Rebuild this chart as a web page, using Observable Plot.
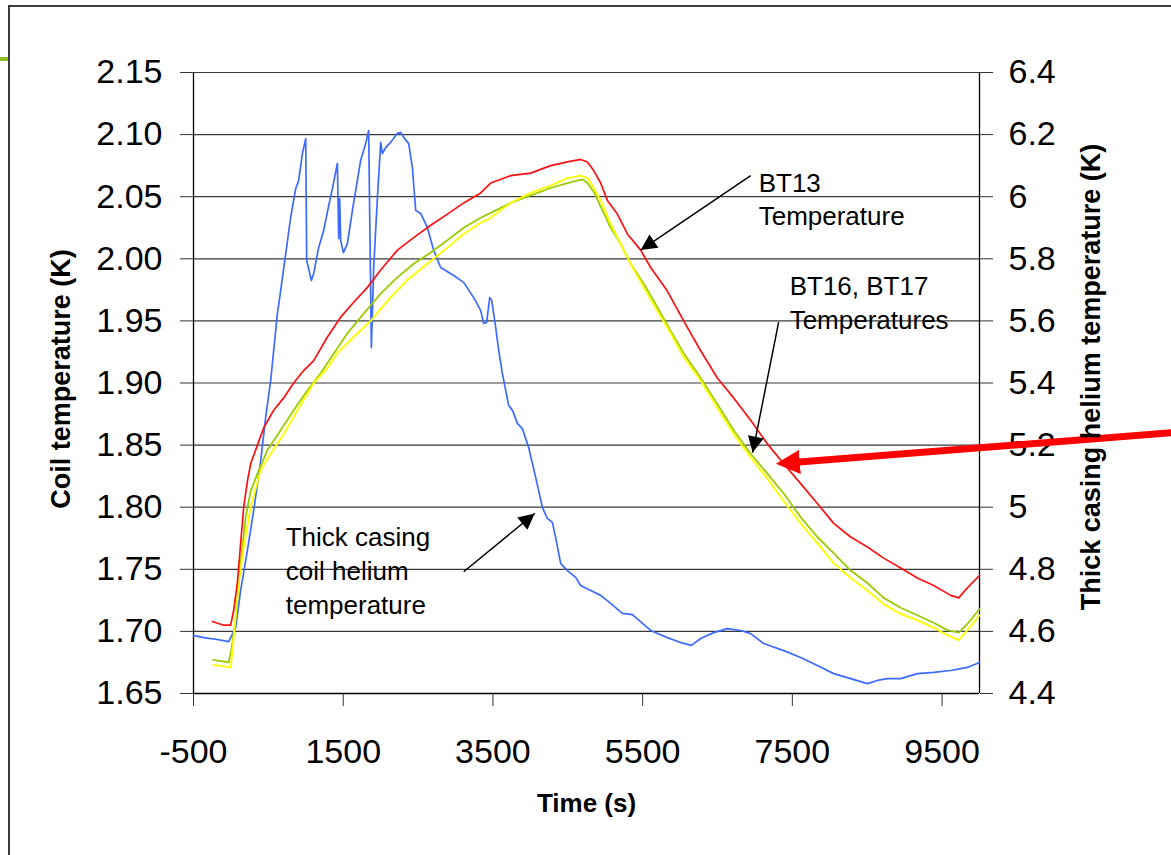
<!DOCTYPE html>
<html>
<head>
<meta charset="utf-8">
<script src="https://cdn.jsdelivr.net/npm/d3@7"></script>
<script src="https://cdn.jsdelivr.net/npm/@observablehq/plot@0.6"></script>
<style>
  html, body { margin: 0; padding: 0; background: #fff; }
  #wrap { position: relative; width: 1171px; height: 855px; overflow: hidden; background: #fff; }
  #frame { position: absolute; left: 8px; top: 5px; right: -4px; bottom: -4px;
           border-top: 2px solid #3c3c3c; border-left: 2px solid #3c3c3c; pointer-events: none; }
  #greenmark { position: absolute; left: 0; top: 57px; width: 8px; height: 4px; background: #8cbf26; }
  #chart svg { display: block; }
</style>
</head>
<body>
<div id="wrap">
  <div id="chart"></div>
  <div id="frame"></div>
  <div id="greenmark"></div>
</div>
<script>
// ---- axis ticks ----
const xTicks = [-500, 1500, 3500, 5500, 7500, 9500];
const leftTicks = [1.65, 1.70, 1.75, 1.80, 1.85, 1.90, 1.95, 2.00, 2.05, 2.10, 2.15];
const rightTicks = [4.4, 4.6, 4.8, 5.0, 5.2, 5.4, 5.6, 5.8, 6.0, 6.2, 6.4];
const rightTickLabels = ["4.4", "4.6", "4.8", "5", "5.2", "5.4", "5.6", "5.8", "6", "6.2", "6.4"];

// ---- BT13 (red, left axis) ----
const bt13Time = [-248,-97,-3,37,86,130,171,220,264,354,438,571,705,838,972,1106,1289,1466,1640,1823,2001,2224,2441,2669,2892,3109,3336,3470,3737,4004,4271,4495,4672,4762,4846,4939,5029,5163,5296,5474,5607,5830,6048,6275,6498,6716,6943,7166,7384,7611,7834,8052,8279,8502,8720,8947,9170,9388,9615,9722,9838,10000];
const bt13Temp = [1.708,1.705,1.705,1.717,1.739,1.771,1.800,1.821,1.835,1.850,1.864,1.878,1.888,1.900,1.910,1.918,1.937,1.953,1.965,1.977,1.991,2.007,2.017,2.027,2.036,2.045,2.053,2.061,2.067,2.069,2.075,2.078,2.080,2.078,2.071,2.061,2.047,2.036,2.020,2.007,1.993,1.974,1.950,1.926,1.904,1.888,1.870,1.851,1.835,1.819,1.803,1.787,1.776,1.768,1.759,1.751,1.743,1.737,1.729,1.727,1.735,1.745];

// ---- BT16 (green, left axis) ----
const bt16Time = [-234,-30,6,64,130,197,264,354,487,665,838,1021,1199,1400,1556,1774,2001,2224,2441,2669,2892,3109,3336,3470,3737,4004,4271,4495,4695,4762,4846,4939,5073,5206,5340,5514,5697,5874,6048,6275,6498,6716,6943,7166,7384,7611,7834,8052,8279,8502,8720,8947,9170,9388,9571,9722,9838,10000];
const bt16Temp = [1.677,1.675,1.685,1.711,1.755,1.792,1.813,1.827,1.846,1.862,1.878,1.894,1.908,1.926,1.940,1.956,1.972,1.985,1.996,2.005,2.015,2.025,2.033,2.037,2.045,2.051,2.057,2.061,2.064,2.061,2.054,2.042,2.025,2.012,1.996,1.980,1.961,1.942,1.924,1.904,1.883,1.862,1.843,1.827,1.811,1.792,1.776,1.763,1.749,1.739,1.727,1.719,1.713,1.707,1.701,1.699,1.706,1.718];

// ---- BT17 (yellow, left axis) ----
const bt17Time = [-234,-3,37,104,171,264,398,531,705,888,1106,1289,1422,1640,1867,2090,2357,2624,2892,3109,3336,3470,3737,4004,4271,4495,4672,4762,4846,4939,5073,5206,5340,5514,5697,5874,6048,6275,6498,6716,6943,7166,7384,7611,7834,8052,8279,8502,8720,8947,9170,9388,9571,9722,9838,10000];
const bt17Temp = [1.673,1.671,1.695,1.739,1.768,1.800,1.830,1.843,1.859,1.878,1.900,1.912,1.924,1.937,1.950,1.966,1.983,1.996,2.009,2.020,2.029,2.033,2.045,2.053,2.059,2.065,2.067,2.065,2.057,2.047,2.028,2.012,1.996,1.977,1.958,1.940,1.921,1.902,1.880,1.859,1.840,1.823,1.805,1.787,1.771,1.755,1.743,1.733,1.722,1.714,1.709,1.703,1.697,1.693,1.701,1.713];

// ---- Thick casing coil helium temperature (blue, right axis) ----
const heliumTime = [-500,-364,-181,-30,-3,64,130,220,304,398,464,531,621,665,732,798,865,905,955,999,1012,1075,1106,1172,1239,1293,1359,1422,1440,1453,1466,1502,1556,1623,1667,1733,1800,1840,1876,1907,1957,2001,2023,2067,2134,2224,2268,2308,2375,2424,2468,2535,2624,2709,2802,2976,3109,3243,3336,3376,3416,3457,3484,3537,3577,3626,3710,3763,3827,3893,3978,4071,4161,4227,4294,4338,4405,4495,4605,4672,4806,4939,5073,5229,5363,5607,5830,6008,6151,6275,6449,6632,6810,6943,7117,7384,7611,7834,8052,8279,8502,8636,8769,8947,9170,9388,9615,9838,10000];
const heliumTemp = [4.587,4.580,4.574,4.567,4.580,4.613,4.732,4.861,4.989,5.150,5.289,5.408,5.624,5.698,5.817,5.933,6.026,6.052,6.139,6.187,5.795,5.730,5.753,5.836,5.891,5.956,6.030,6.107,5.865,5.994,5.859,5.820,5.849,5.956,6.020,6.117,6.171,6.213,5.514,5.772,5.997,6.175,6.139,6.158,6.175,6.204,6.207,6.191,6.171,6.094,5.956,5.946,5.901,5.827,5.772,5.746,5.724,5.675,5.634,5.592,5.595,5.675,5.666,5.579,5.505,5.431,5.328,5.311,5.270,5.253,5.192,5.096,4.999,4.964,4.951,4.902,4.819,4.796,4.774,4.748,4.732,4.716,4.690,4.658,4.654,4.603,4.580,4.564,4.555,4.577,4.596,4.609,4.603,4.593,4.561,4.538,4.516,4.490,4.464,4.448,4.432,4.442,4.448,4.448,4.464,4.468,4.474,4.484,4.500];

// ---- annotations (data units: time s, coil temperature K) ----
const noteTexts = ["BT13\nTemperature", "BT16, BT17\nTemperatures", "Thick casing\ncoil helium\ntemperature"];
const noteTime = [7050, 7464, 732];
const noteTemp = [2.0735, 1.990, 1.788];
const arrowFromTime = [6943, 7317, 3109];
const arrowFromTemp = [2.067, 1.949, 1.748];
const arrowToTime = [5474, 6970, 4058];
const arrowToTemp = [2.007, 1.844, 1.795];
const redArrowFromTime = [12567];
const redArrowFromTemp = [1.860];
const redArrowToTime = [7504];
const redArrowToTemp = [1.836];

// right axis (4.4–6.4 K) shares the frame with left axis (1.65–2.15 K)
const L0 = 1.65, L1 = 2.15, R0 = 4.4, R1 = 6.4;
const rightToLeft = v => L0 + (v - R0) * (L1 - L0) / (R1 - R0);

const series = (t, v, f = d => d) => t.map((x, i) => ({time: x, temp: f(v[i])}));
const bt13 = series(bt13Time, bt13Temp);
const bt16 = series(bt16Time, bt16Temp);
const bt17 = series(bt17Time, bt17Temp);
const helium = series(heliumTime, heliumTemp, rightToLeft);
const notes = noteTexts.map((s, i) => ({text: s, time: noteTime[i], temp: noteTemp[i]}));
const arrows = arrowFromTime.map((t, i) => ({x1: t, y1: arrowFromTemp[i], x2: arrowToTime[i], y2: arrowToTemp[i]}));
const redArrows = redArrowFromTime.map((t, i) => ({x1: t, y1: redArrowFromTemp[i], x2: redArrowToTime[i], y2: redArrowToTemp[i]}));

const FONT = "'Liberation Sans', Arial, Helvetica, sans-serif";

const chart = Plot.plot({
  width: 1171,
  height: 855,
  marginLeft: 193,
  marginRight: 192,
  marginTop: 72,
  marginBottom: 162,
  x: {domain: [-500, 10000]},
  y: {domain: [L0, L1]},
  style: {fontFamily: FONT, fontSize: "34px", color: "#000", background: "transparent", overflow: "visible"},
  marks: [
    Plot.gridY(leftTicks, {stroke: "#3a3a3a", strokeOpacity: 1, strokeWidth: 1.2}),
    Plot.ruleX([-500], {stroke: "#000", strokeWidth: 1.3}),
    Plot.ruleX([10000], {stroke: "#000", strokeWidth: 1.3}),
    Plot.axisY(leftTicks, {anchor: "left", tickSize: 13, tickPadding: 18, tickFormat: d => d.toFixed(2), label: null, stroke: "#333", fontSize: 34}),
    Plot.axisY(rightTicks.map(rightToLeft), {anchor: "right", tickSize: 13, tickPadding: 16, tickFormat: (d, i) => rightTickLabels[i], label: null, stroke: "#333", fontSize: 34}),
    Plot.axisX(xTicks, {anchor: "bottom", tickSize: 13, tickPadding: 32, tickFormat: d => String(d), label: null, stroke: "#333", fontSize: 34}),
    Plot.ruleY([L0], {stroke: "#000", strokeWidth: 1.3}),
    Plot.line(helium, {x: "time", y: "temp", stroke: "#3d6bff", strokeWidth: 1.7}),
    Plot.line(bt16, {x: "time", y: "temp", stroke: "#99cc00", strokeWidth: 1.8}),
    Plot.line(bt17, {x: "time", y: "temp", stroke: "#ffff00", strokeWidth: 1.9}),
    Plot.line(bt13, {x: "time", y: "temp", stroke: "#ff1010", strokeWidth: 1.7}),
    Plot.text(notes, {x: "time", y: "temp", text: "text", textAnchor: "start", lineAnchor: "top", lineHeight: 1.3, fontSize: 26, fill: "#000"}),
    Plot.link(arrows, {x1: "x1", y1: "y1", x2: "x2", y2: "y2", stroke: "#000", strokeWidth: 1.5, className: "ann-arrow"}),
    Plot.link(redArrows, {x1: "x1", y1: "y1", x2: "x2", y2: "y2", stroke: "#ff0000", strokeWidth: 7, className: "ann-red"}),
    Plot.text(["Coil temperature (K)"], {frameAnchor: "left", textAnchor: "middle", dx: -132, dy: -4, rotate: -90, fontSize: 27, fontWeight: "bold", fill: "#000"}),
    Plot.text(["Thick casing helium temperature (K)"], {frameAnchor: "right", textAnchor: "middle", dx: 112, dy: -6, rotate: -90, fontSize: 27, fontWeight: "bold", fill: "#000"}),
    Plot.text(["Time (s)"], {frameAnchor: "bottom", textAnchor: "middle", dy: 118, fontSize: 26, fontWeight: "bold", fill: "#000"})
  ]
});

document.getElementById("chart").appendChild(chart);

// filled triangular arrowheads (Excel style)
const svg = d3.select(chart);
const defs = svg.insert("defs", ":first-child");
defs.append("marker")
  .attr("id", "triBlack").attr("viewBox", "0 0 10 10").attr("refX", 10).attr("refY", 5)
  .attr("markerUnits", "userSpaceOnUse").attr("markerWidth", 21).attr("markerHeight", 16)
  .attr("orient", "auto")
  .append("path").attr("d", "M0,0L10,5L0,10Z").attr("fill", "#000");
defs.append("marker")
  .attr("id", "triRed").attr("viewBox", "0 0 10 10").attr("refX", 3).attr("refY", 5)
  .attr("markerUnits", "userSpaceOnUse").attr("markerWidth", 24).attr("markerHeight", 25)
  .attr("orient", "auto")
  .append("path").attr("d", "M0,0L10,5L0,10Z").attr("fill", "#ff0000");
svg.selectAll(".ann-arrow path").attr("marker-end", "url(#triBlack)");
svg.selectAll(".ann-red path").attr("marker-end", "url(#triRed)");
</script>
</body>
</html>
